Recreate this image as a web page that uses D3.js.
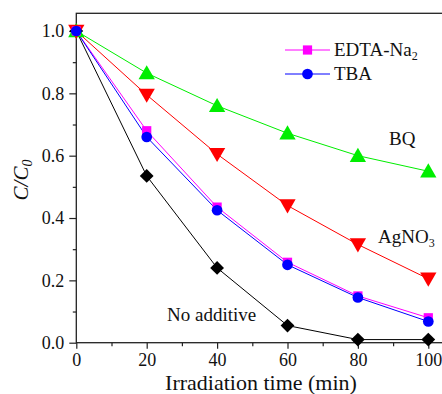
<!DOCTYPE html>
<html><head><meta charset="utf-8">
<script src="https://cdn.jsdelivr.net/npm/d3@7"></script>
<style>body{margin:0;background:#fff}svg{display:block}svg text{font-family:"Liberation Serif","Times New Roman",Times,"DejaVu Serif",serif !important}</style>
</head><body><svg id="c" width="442" height="394" font-family="Liberation Serif, serif"></svg>
<script>
const times = [0, 20, 40, 60, 80, 100];
const noAdditive = [1.0, 0.535, 0.24, 0.055, 0.01, 0.01];
const edta = [1.0, 0.68, 0.435, 0.258, 0.15, 0.08];
const tba = [1.0, 0.66, 0.425, 0.25, 0.145, 0.068];
const agno3 = [1.0, 0.795, 0.605, 0.44, 0.315, 0.205];
const bq = [1.0, 0.865, 0.76, 0.672, 0.6, 0.55];
const xTicks = [0, 20, 40, 60, 80, 100];
const yTicks = [0.0, 0.2, 0.4, 0.6, 0.8, 1.0];

const series = [
  {name:"No additive", vals:noAdditive, color:"#000000", sym:d3.symbolSquare, size:95, rot:45},
  {name:"BQ", vals:bq, color:"#00ee00", sym:d3.symbolTriangle, size:115, rot:0},
  {name:"AgNO3", vals:agno3, color:"#ff0000", sym:d3.symbolTriangle, size:115, rot:180},
  {name:"EDTA-Na2", vals:edta, color:"#ff00ff", sym:d3.symbolSquare, size:85, rot:0},
  {name:"TBA", vals:tba, color:"#0000ff", sym:d3.symbolCircle, size:90, rot:0}
];

const FF = '"Liberation Serif","Times New Roman",serif';
const svg = d3.select("#c");
const L = 76.3, T = 13.3, B = 342.7, R = 448;
const x = d3.scaleLinear().domain([0, 100]).range([L, 428.3]);
const y = d3.scaleLinear().domain([0, 1]).range([B, 31]);

svg.append("rect").attr("x", L).attr("y", T).attr("width", R - L).attr("height", B - T)
  .attr("fill", "none").attr("stroke", "#222").attr("stroke-width", 1.3);

const fs = "18px";
const xAxis = svg.append("g").attr("transform", `translate(0,${B})`)
  .call(d3.axisBottom(x).tickValues(xTicks).tickSize(6).tickPadding(5).tickFormat(d3.format("d")));
const xMinor = svg.append("g").attr("transform", `translate(0,${B})`)
  .call(d3.axisBottom(x).tickValues(d3.range(10, 110, 20)).tickSize(3.5).tickFormat(""));
const yAxis = svg.append("g").attr("transform", `translate(${L},0)`)
  .call(d3.axisLeft(y).tickValues(yTicks).tickSize(7).tickPadding(5).tickFormat(d3.format(".1f")));
const yMinor = svg.append("g").attr("transform", `translate(${L},0)`)
  .call(d3.axisLeft(y).tickValues([0.1, 0.3, 0.5, 0.7, 0.9]).tickSize(3.5).tickFormat(""));
[xAxis, xMinor, yAxis, yMinor].forEach(g => {
  g.attr("font-family", FF).attr("font-size", fs);
  g.select(".domain").remove();
  g.selectAll("line").attr("stroke", "#222").attr("stroke-width", 1.2);
  g.selectAll("text").attr("fill", "#111");
});

const line = d3.line().x((d, i) => x(times[i])).y(d => y(d));
const plot = svg.append("g");
series.forEach(s => {
  plot.append("path").datum(s.vals).attr("d", line).attr("fill", "none")
    .attr("stroke", s.color).attr("stroke-width", 1);
});
series.forEach(s => {
  plot.selectAll(null).data(s.vals).enter().append("path")
    .attr("d", d3.symbol().type(s.sym).size(s.size))
    .attr("transform", (d, i) => {
      let dy = s.rot === 180 ? -1.5 : (s.sym === d3.symbolTriangle ? 1.5 : 0);
      return `translate(${x(times[i])},${y(d) + dy}) rotate(${s.rot})`;
    })
    .attr("fill", s.color);
});

const leg = [{s:series[3], label:"EDTA-Na", sub:"2", y:50}, {s:series[4], label:"TBA", sub:"", y:74}];
leg.forEach(l => {
  const g = svg.append("g");
  g.append("line").attr("x1", 285).attr("x2", 330).attr("y1", l.y).attr("y2", l.y)
    .attr("stroke", l.s.color).attr("stroke-width", 1);
  g.append("path").attr("d", d3.symbol().type(l.s.sym).size(l.s.size))
    .attr("transform", `translate(307.5,${l.y})`).attr("fill", l.s.color);
  const t = g.append("text").attr("x", 334).attr("y", l.y + 6).attr("font-size", "19px").attr("fill", "#111").text(l.label);
  if (l.sub) t.append("tspan").attr("font-size", "12px").attr("dy", 4).text(l.sub);
});

svg.append("text").attr("x", 389).attr("y", 145).attr("font-size", "19px").attr("fill", "#111").text("BQ");
const ag = svg.append("text").attr("x", 378).attr("y", 243).attr("font-size", "19px").attr("fill", "#111").text("AgNO");
ag.append("tspan").attr("font-size", "12px").attr("dy", 4).text("3");
svg.append("text").attr("x", 167).attr("y", 321).attr("font-size", "19px").attr("fill", "#111").text("No additive");

svg.append("text").attr("x", 261).attr("y", 390).attr("text-anchor", "middle").attr("font-size", "22px").attr("fill", "#111")
  .text("Irradiation time (min)");
const yt = svg.append("text").attr("transform", "translate(28,180) rotate(-90)").attr("text-anchor", "middle")
  .attr("font-size", "21px").attr("font-style", "italic").attr("fill", "#111");
yt.append("tspan").text("C/C");
yt.append("tspan").attr("font-size", "14px").attr("dy", 4).text("0");
svg.selectAll("text").attr("font-family", FF);
</script></body></html>
